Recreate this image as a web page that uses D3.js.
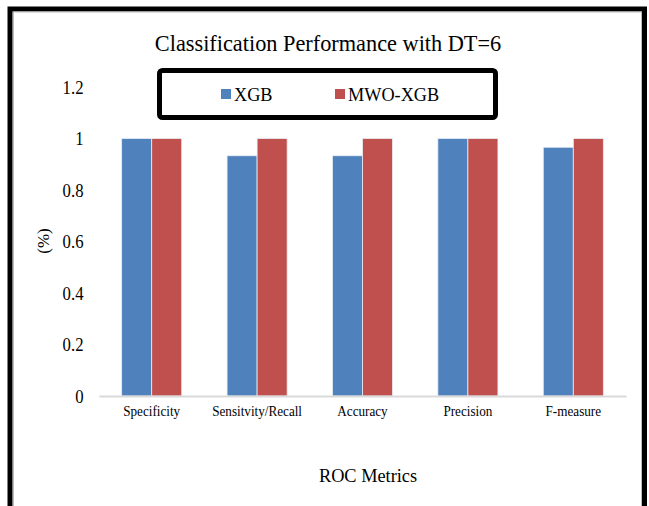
<!DOCTYPE html>
<html>
<head>
<meta charset="utf-8">
<script src="https://cdn.jsdelivr.net/npm/d3@7"></script>
<style>
  html, body { margin: 0; padding: 0; background: #fff; }
  svg { display: block; }
  text { font-family: "Liberation Serif", "Times New Roman", serif; fill: #000; }
</style>
</head>
<body>
<svg id="chart" width="649" height="506"></svg>
<script>
// Metrics on the x axis
const categories = ["Specificity", "Sensitvity/Recall", "Accuracy", "Precision", "F-measure"];
// Series
const seriesNames = ["XGB", "MWO-XGB"];
const xgbValues = [1.0, 0.933, 0.933, 1.0, 0.966];
const mwoXgbValues = [1.0, 1.0, 1.0, 1.0, 1.0];
const seriesColors = ["#4F81BD", "#C0504D"];
// Y axis ticks
const yTicks = [0, 0.2, 0.4, 0.6, 0.8, 1, 1.2];

const titleText = "Classification Performance with DT=6";
const xTitle = "ROC Metrics";
const yTitle = "(%)";

const serif = "'Liberation Serif', 'Times New Roman', serif";
const svg = d3.select("#chart");

// Frame around the chart (open at the bottom)
svg.append("path")
  .attr("d", "M10,506 V9 H644.5 V506")
  .attr("fill", "none")
  .attr("stroke", "#000")
  .attr("stroke-width", 5);
svg.append("path")
  .attr("d", "M13.5,506 V12 H641.5 V506")
  .attr("fill", "none")
  .attr("stroke", "#bdbdbd")
  .attr("stroke-width", 1);

const plot = { left: 99, right: 626, top: 87, bottom: 396 };

const x = d3.scaleBand()
  .domain(categories)
  .range([plot.left, plot.right])
  .padding(0);

const groupWidth = x.bandwidth() * 0.57;
const xs = d3.scaleBand()
  .domain(seriesNames)
  .range([-groupWidth / 2, groupWidth / 2])
  .padding(0);

const y = d3.scaleLinear()
  .domain([0, 1.2])
  .range([plot.bottom, plot.top]);

// Condensed serif text helper
function label(parent, tx, ty, str, size, sx, anchor) {
  return parent.append("text")
    .attr("transform", `translate(${tx},${ty}) scale(${sx},1)`)
    .attr("text-anchor", anchor || "middle")
    .style("font-size", size + "px")
    .text(str);
}

// Title
label(svg, 328, 51, titleText, 24, 0.93);

// Bars
const rows = categories.map((c, i) => ({ cat: c, values: [xgbValues[i], mwoXgbValues[i]] }));
const groups = svg.append("g").selectAll("g")
  .data(rows)
  .join("g")
  .attr("transform", d => `translate(${x(d.cat) + x.bandwidth() / 2},0)`);

groups.selectAll("rect")
  .data(d => d.values.map((v, j) => ({ name: seriesNames[j], v, j })))
  .join("rect")
  .attr("x", d => xs(d.name))
  .attr("width", xs.bandwidth())
  .attr("y", d => y(d.v))
  .attr("height", d => y(0) - y(d.v))
  .attr("fill", d => seriesColors[d.j])
  .attr("stroke", "#e8eef6")
  .attr("stroke-width", 0.8);

// X axis line and category labels
const xAxis = svg.append("g")
  .attr("transform", `translate(0,${plot.bottom})`)
  .call(d3.axisBottom(x).tickSize(0).tickPadding(10));
xAxis.select(".domain").attr("stroke", "#d9d9d9").attr("stroke-width", 2);
xAxis.selectAll("text")
  .style("font-family", serif)
  .style("font-size", "14px")
  .attr("transform", "scale(0.94,1)")
  .attr("fill", "#000");

// Y axis labels (no axis line)
const yAxis = svg.append("g")
  .attr("transform", `translate(83.5,0)`)
  .call(d3.axisLeft(y).tickValues(yTicks).tickSize(0).tickPadding(0)
    .tickFormat(d => d3.format("")(+d.toFixed(1))));
yAxis.select(".domain").remove();
yAxis.selectAll("text")
  .style("font-family", serif)
  .style("font-size", "19px")
  .attr("transform", "scale(0.88,1)")
  .attr("fill", "#000");

// Axis titles
svg.append("text")
  .attr("transform", "translate(49,241) rotate(-90)")
  .attr("text-anchor", "middle")
  .style("font-size", "17px")
  .text(yTitle);

label(svg, 368, 482, xTitle, 19.5, 0.94);

// Legend
const legend = svg.append("g");
legend.append("rect")
  .attr("x", 159.5).attr("y", 70.5)
  .attr("width", 336).attr("height", 47)
  .attr("rx", 3)
  .attr("fill", "#fff")
  .attr("stroke", "#000")
  .attr("stroke-width", 5);

const legendX = [221, 335];
seriesNames.forEach((name, i) => {
  legend.append("rect")
    .attr("x", legendX[i]).attr("y", 89)
    .attr("width", 10).attr("height", 10)
    .attr("fill", seriesColors[i]);
  label(legend, legendX[i] + 13, 100.5, name, 19, 0.96, "start");
});
</script>
</body>
</html>
